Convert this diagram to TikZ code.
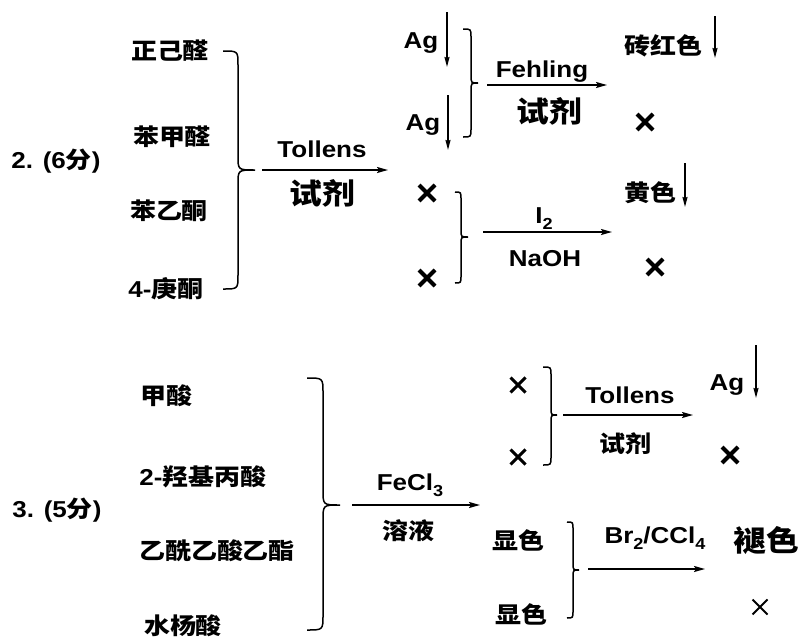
\documentclass[tikz,border=0pt]{standalone}
\usepackage{fontspec}
\setmainfont{Liberation Sans}[FakeStretch=1.13]
\newfontfamily\cjk{Noto Sans CJK SC}[FakeStretch=1.13]
\usetikzlibrary{arrows.meta,shapes.misc}
\tikzset{
 lbl/.style={inner sep=0pt, anchor=base, font=\fontsize{23}{27}\selectfont\bfseries},
 big/.style={lbl, font=\fontsize{29}{33}\selectfont\bfseries},
 arr/.style={line width=1.6pt, -{Stealth[length=11pt,width=6pt,inset=2pt]}},
 darr/.style={line width=1.5pt, -{Stealth[length=10pt,width=5pt,inset=1pt]}},
 brc/.style={line width=1.5pt},
 bx/.style={cross out, draw, minimum size=12pt, inner sep=0pt, line width=4pt},
 mx/.style={cross out, draw, minimum size=12pt, inner sep=0pt, line width=3pt},
 tx/.style={cross out, draw, minimum size=13pt, inner sep=0pt, line width=2pt},
}
\newcommand\zh[1]{{\cjk #1}}
\newcommand\sbs[1]{\raisebox{-0.3em}{\fontsize{16}{16}\selectfont #1}}
% x0 x1 x2 y1 yt y2 r1 r2
\newcommand\mybrace[8]{\draw[brc] (#1,#4) .. controls (#2,#4) .. (#2,#4+#7) -- (#2,#5-#8) .. controls (#2,#5) .. (#3,#5) .. controls (#2,#5) .. (#2,#5+#8) -- (#2,#6-#7) .. controls (#2,#6) .. (#1,#6);}
\begin{document}
\begin{tikzpicture}[x=1pt,y=-1pt]
\useasboundingbox (0,0) rectangle (798,637);
% ---------- Section 2 ----------
\node[lbl] (q2) at (56,168) {2. (6\zh{分})};
\node[lbl] (c1) at (170,59) {\zh{正己醛}};
\node[lbl] (c2) at (172,145) {\zh{苯甲醛}};
\node[lbl] (c3) at (169,219) {\zh{苯乙酮}};
\node[lbl] (c4) at (166,297) {4-\zh{庚酮}};
\mybrace{223}{238}{255}{51}{170}{289}{14}{14}
\coordinate (a1s) at (262,170); \coordinate (a1e) at (388,170);
\draw[arr] (a1s) -- (a1e);
\node[lbl] (t1) at (322,157) {Tollens};
\node[big] (r1) at (322,204) {\zh{试剂}};
% Ag results
\node[lbl] (ag1) at (421,48) {Ag};
\coordinate (d1s) at (447,12); \coordinate (d1e) at (447,67);
\draw[darr] (d1s) -- (d1e);
\node[lbl] (ag2) at (423,130) {Ag};
\coordinate (d2s) at (448,95); \coordinate (d2e) at (448,150);
\draw[darr] (d2s) -- (d2e);
\mybrace{463}{471}{478}{29}{83}{137}{8}{8}
\coordinate (a2s) at (487,85); \coordinate (a2e) at (607,85);
\draw[arr] (a2s) -- (a2e);
\node[lbl] (f1) at (542,77) {Fehling};
\node[big] (r2) at (549,122) {\zh{试剂}};
\node[lbl] (brk) at (663,54) {\zh{砖红色}};
\coordinate (d3s) at (715,16); \coordinate (d3e) at (715,58);
\draw[darr] (d3s) -- (d3e);
\node[bx] (x1) at (645,122) {};
% ketones
\node[bx] (x2) at (427,193) {};
\node[bx] (x3) at (427,278) {};
\mybrace{455}{461}{468}{192}{237}{283}{7}{7}
\coordinate (a3s) at (483,232); \coordinate (a3e) at (612,232);
\draw[arr] (a3s) -- (a3e);
\node[lbl] (i2) at (544,223) {I\sbs{2}};
\node[lbl] (naoh) at (545,266) {NaOH};
\node[lbl] (yel) at (650,201) {\zh{黄色}};
\coordinate (d4s) at (685,163); \coordinate (d4e) at (685,207);
\draw[darr] (d4s) -- (d4e);
\node[bx] (x4) at (655,267) {};
% ---------- Section 3 ----------
\node[lbl] (q3) at (57,517) {3. (5\zh{分})};
\node[lbl] (e1) at (166,404) {\zh{甲酸}};
\node[lbl] (e2) at (203,485) {2-\zh{羟基丙酸}};
\node[lbl] (e3) at (217,559) {\zh{乙酰乙酸乙酯}};
\node[lbl] (e4) at (183,634) {\zh{水杨酸}};
\mybrace{307}{323}{340}{378}{505}{630}{15}{15}
\coordinate (b1s) at (352,505); \coordinate (b1e) at (480,505);
\draw[arr] (b1s) -- (b1e);
\node[lbl] (fe) at (410,490) {FeCl\sbs{3}};
\node[lbl] (sol) at (408,539) {\zh{溶液}};
% upper branch
\node[mx] (y1) at (518,385) {};
\node[mx] (y2) at (518,457) {};
\mybrace{543}{551}{557}{367}{415}{465}{8}{7}
\coordinate (b2s) at (563,415); \coordinate (b2e) at (693,415);
\draw[arr] (b2s) -- (b2e);
\node[lbl] (t2) at (630,403) {Tollens};
\node[lbl] (r3) at (625,452) {\zh{试剂}};
\node[lbl] (ag3) at (727,390) {Ag};
\coordinate (d5s) at (756,345); \coordinate (d5e) at (756,398);
\draw[darr] (d5s) -- (d5e);
\node[bx] (y3) at (730,455) {};
% lower branch
\node[lbl] (s1) at (518,549) {\zh{显色}};
\node[lbl] (s2) at (521,623) {\zh{显色}};
\mybrace{567}{573}{579}{522}{570}{618}{7}{7}
\coordinate (b3s) at (588,569); \coordinate (b3e) at (705,569);
\draw[arr] (b3s) -- (b3e);
\node[lbl] (br) at (655,543) {Br\sbs{2}/CCl\sbs{4}};
\node[big] (fade) at (766,551) {\zh{褪色}};
\node[tx] (y4) at (760,607) {};
\end{tikzpicture}
\end{document}
